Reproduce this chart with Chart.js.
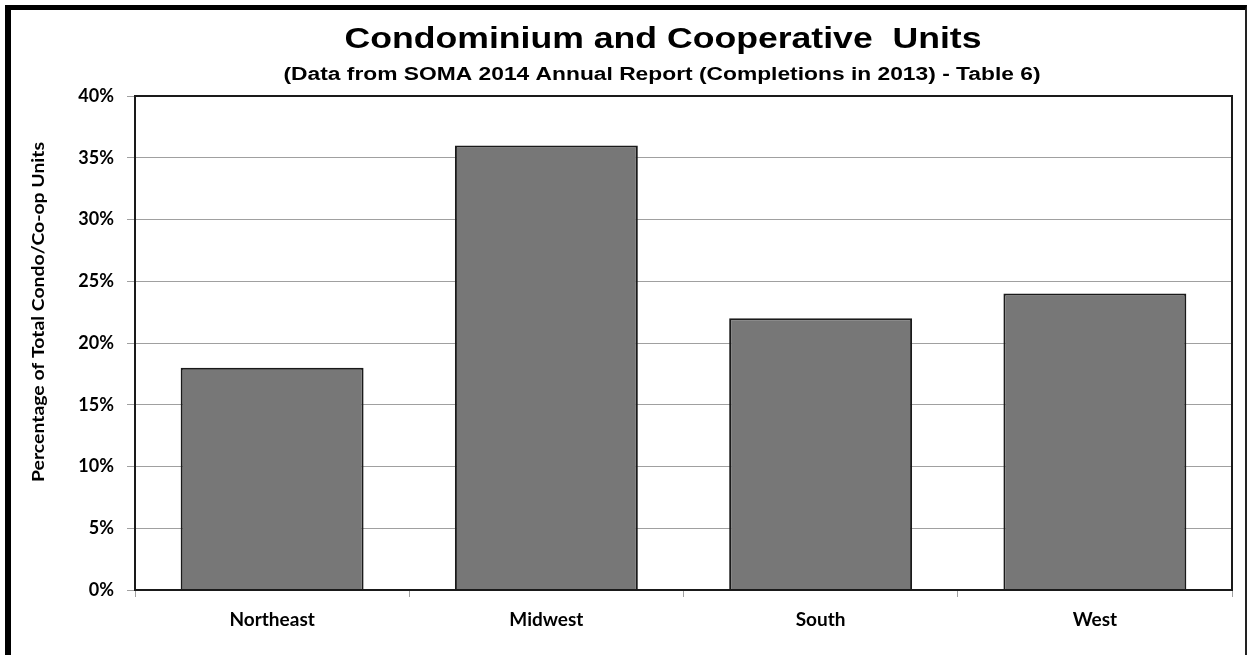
<!DOCTYPE html>
<html>
<head>
<meta charset="utf-8">
<script src="https://cdn.jsdelivr.net/npm/chart.js@4.4.1/dist/chart.umd.min.js"></script>
<style>
  html, body { margin: 0; padding: 0; background: #fff; }
  #wrap { position: relative; width: 1249px; height: 655px; overflow: hidden; }
  #frame { position: absolute; left: 5px; top: 5px; width: 1234px; height: 700px;
           border-left: 6px solid #000; border-top: 5px solid #000; border-right: 2px solid #222; }
  canvas { position: absolute; left: 0; top: 0; }
</style>
</head>
<body>
<div id="wrap">
  <div id="frame"></div>
  <canvas id="c" width="1249" height="655"></canvas>
</div>
<script>
const categories = ['Northeast', 'Midwest', 'South', 'West'];
const shareValues = [18, 36, 22, 24];
const yTickValues = [0, 5, 10, 15, 20, 25, 30, 35, 40];
const titleText = 'Condominium and Cooperative  Units';
const subtitleText = '(Data from SOMA 2014 Annual Report (Completions in 2013) - Table 6)';
const yAxisTitle = 'Percentage of Total Condo/Co-op Units';

function stretchedText(ctx, text, x, y, font, targetWidth, rotate) {
  ctx.save();
  ctx.font = font;
  const w = ctx.measureText(text).width;
  ctx.translate(x, y);
  if (rotate) ctx.rotate(-Math.PI / 2);
  ctx.scale(targetWidth / w, 1);
  ctx.fillStyle = '#000';
  ctx.textAlign = 'center';
  ctx.textBaseline = 'middle';
  ctx.fillText(text, 0, 0);
  ctx.restore();
}

const headerPlugin = {
  id: 'header',
  afterDraw(chart) {
    const ctx = chart.ctx;
    stretchedText(ctx, titleText, 663, 40, 'bold 29px "Liberation Sans", Arial, sans-serif', 637, false);
    stretchedText(ctx, subtitleText, 662, 75, 'bold 18px "Liberation Sans", Arial, sans-serif', 757, false);
    stretchedText(ctx, yAxisTitle, 39, 312, 'bold 17px Lato, "Open Sans", sans-serif', 340, true);
  }
};

const frameBoxPlugin = {
  id: 'frameBox',
  afterDatasetsDraw(chart) {
    const a = chart.chartArea, ctx = chart.ctx;
    ctx.save();
    ctx.strokeStyle = '#1a1a1a';
    ctx.lineWidth = 2;
    ctx.strokeRect(a.left, a.top, a.right - a.left, a.bottom - a.top);
    ctx.restore();
  }
};

new Chart(document.getElementById('c'), {
  type: 'bar',
  data: {
    labels: categories,
    datasets: [{
      data: shareValues,
      backgroundColor: '#777777',
      borderColor: '#1a1a1a',
      borderWidth: 2,
      barPercentage: 0.667,
      categoryPercentage: 1.0
    }]
  },
  options: {
    responsive: false,
    animation: false,
    devicePixelRatio: 1,
    layout: { padding: { left: 12, right: 17, top: 96, bottom: 0 } },
    plugins: {
      legend: { display: false },
      title: { display: false },
      tooltip: { enabled: false }
    },
    scales: {
      x: {
        offset: true,
        grid: { display: true, drawOnChartArea: false, drawTicks: true, tickLength: 7, color: '#a0a0a0', offset: true },
        border: { display: true, color: '#1a1a1a', width: 2 },
        ticks: { color: '#000', padding: 11, font: { family: 'Lato, "Open Sans", sans-serif', weight: 'bold', size: 19 } },
        afterFit(scale) { scale.height = 65; }
      },
      y: {
        min: 0,
        max: 40,
        afterBuildTicks(scale) { scale.ticks = yTickValues.map(v => ({ value: v })); },
        grid: { color: '#a0a0a0', lineWidth: 1, tickLength: 8, drawTicks: true },
        border: { display: true, color: '#1a1a1a', width: 2 },
        ticks: {
          color: '#000',
          padding: 13,
          font: { family: 'Lato, "Open Sans", sans-serif', weight: 'bold', size: 18 },
          callback: v => v + '%'
        },
        title: { display: false },
        afterFit(scale) { scale.width = 123; }
      }
    }
  },
  plugins: [headerPlugin, frameBoxPlugin]
});
</script>
</body>
</html>
